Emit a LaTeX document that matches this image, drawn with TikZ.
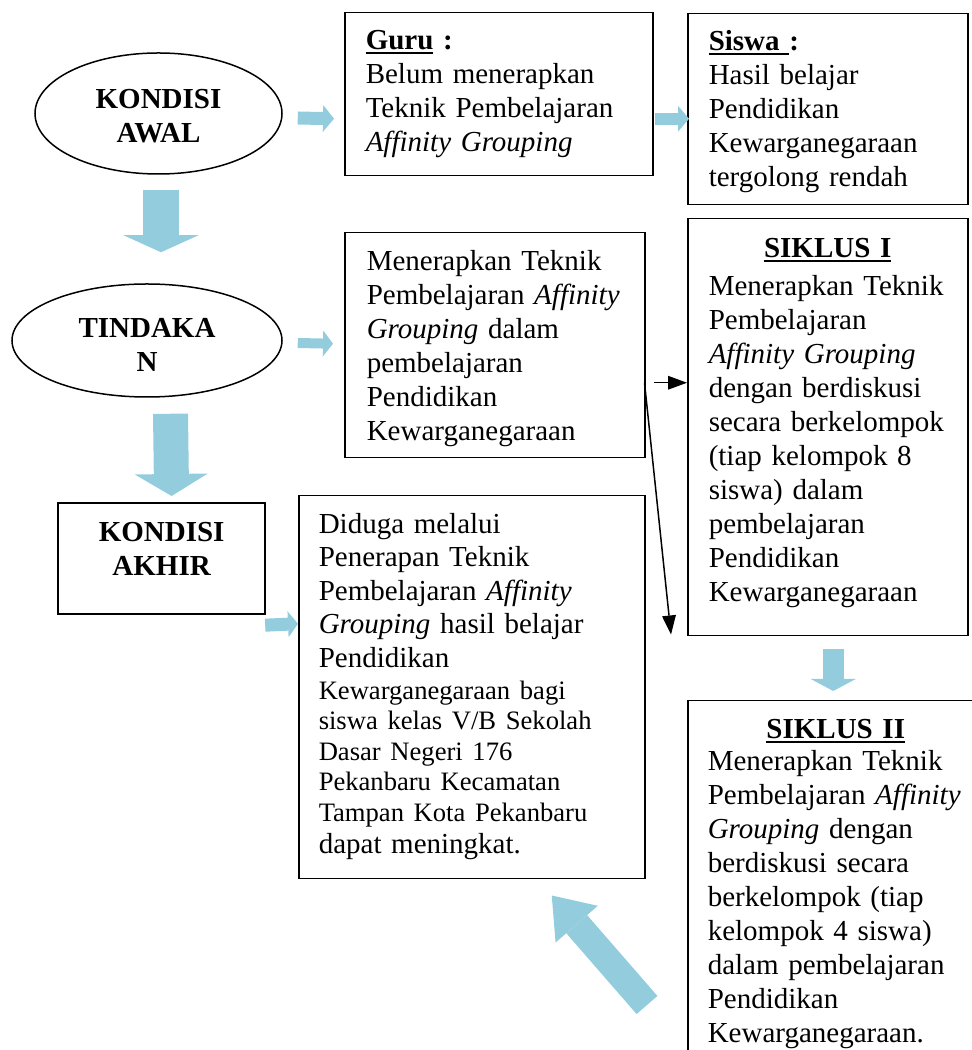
\documentclass[tikz,border=0pt]{standalone}
\usepackage{fontspec}
\setmainfont{Liberation Serif}
\usetikzlibrary{shapes.geometric,arrows.meta}

\definecolor{biru}{RGB}{147,205,221}
\newsavebox{\garisbox}
\newcommand{\garis}[1]{\sbox{\garisbox}{#1}\rlap{\rule[-4pt]{\wd\garisbox}{2pt}}\usebox{\garisbox}}
\newcommand{\judul}[1]{\makebox[\linewidth][c]{\garis{\textbf{#1}}}}
\newcommand{\teks}{\fontsize{29}{34}\selectfont}
\newcommand{\kecil}{\fontsize{26.6}{33.5}\selectfont}

\begin{document}
\begin{tikzpicture}[x=1pt,y=1pt,
  kotak/.style={draw,line width=1.5pt,anchor=north west,inner xsep=21pt,inner ysep=0pt,align=left,font=\teks},
  elips/.style={draw,ellipse,line width=1.5pt,text width=150pt,align=center,inner sep=2pt,font=\teks\bfseries},
  blok/.style n args={3}{draw=biru,line width=#1,-{Triangle[width=#2,length=#3,line width=0pt]}},
  panah/.style={draw=black,line width=1.5pt,-{Triangle[width=14pt,length=19pt,line width=0pt]}}]
\useasboundingbox (0,0) rectangle (972,1050);

% Kiri
\node[elips,minimum width=247pt,minimum height=121pt,text height=20pt,text depth=29pt] (awal) at (158.5,936.5) {KONDISI\\AWAL};
\node[elips,minimum width=270pt,minimum height=113pt,text height=20pt,text depth=25pt] (tindakan) at (147,709.5) {TINDAKA\\N};
\node[kotak,line width=2.2pt,inner xsep=0pt,align=center,font=\teks\bfseries,text width=207pt,text height=38pt,text depth=73pt] (akhir) at (57,548) {KONDISI\\AKHIR};

% Tengah
\node[kotak,text width=266pt,text height=37pt,text depth=126pt] (guru) at (344,1038) {\garis{\textbf{Guru}}\textbf{ :}\\
Belum menerapkan\\
Teknik Pembelajaran\\
\textit{Affinity Grouping}};
\node[kotak,inner xsep=22pt,text width=256pt,text height=38pt,text depth=187pt] (terap) at (344,818) {Menerapkan Teknik\\
Pembelajaran \textit{Affinity}\\
\textit{Grouping} dalam\\
pembelajaran\\
Pendidikan\\
Kewarganegaraan};
\node[kotak,inner xsep=20pt,font=\fontsize{29}{33.5}\selectfont,text width=306pt,text height=37.5pt,text depth=345.5pt] (diduga) at (298,555) {Diduga melalui\\
Penerapan Teknik\\
Pembelajaran \textit{Affinity}\\
\textit{Grouping} hasil belajar\\
Pendidikan\\[-1.5pt]
{\kecil Kewarganegaraan bagi}\\[-3pt]
{\kecil siswa kelas V/B Sekolah}\\[-3pt]
{\kecil Dasar Negeri 176}\\[-3pt]
{\kecil Pekanbaru Kecamatan}\\[-3pt]
{\kecil Tampan Kota Pekanbaru}\\[-1pt]
dapat meningkat.};

% Kanan
\node[kotak,text width=238pt,text height=37pt,text depth=154pt] (siswa) at (687,1037) {\garis{\textbf{Siswa }}\textbf{:}\\
Hasil belajar\\
Pendidikan\\
Kewarganegaraan\\
tergolong rendah};
\node[kotak,text width=238pt,text height=39pt,text depth=378pt] (siklus1) at (687,832) {\judul{SIKLUS I}\\[4pt]
Menerapkan Teknik\\
Pembelajaran\\
\textit{Affinity Grouping}\\
dengan berdiskusi\\
secara berkelompok\\
(tiap kelompok 8\\
siswa) dalam\\
pembelajaran\\
Pendidikan\\
Kewarganegaraan};
\node[kotak,inner xsep=20pt,text width=256pt,text height=38pt,text depth=322pt] (siklus2) at (687,350) {\judul{SIKLUS II}\\[-2pt]
Menerapkan Teknik\\
Pembelajaran \textit{Affinity}\\
\textit{Grouping} dengan\\
berdiskusi secara\\
berkelompok (tiap\\
kelompok 4 siswa)\\
dalam pembelajaran\\
Pendidikan\\
Kewarganegaraan.};

% Panah biru
\draw[blok={13pt}{27pt}{11pt}] ([xshift=15pt,yshift=-4.5pt]awal.east) -- ([xshift=-10pt,yshift=-24.5pt]guru.west);
\draw[blok={12pt}{26pt}{11pt}] ([xshift=1pt,yshift=-24.5pt]guru.east) -- ([xshift=2pt,yshift=-9.5pt]siswa.west);
\draw[blok={36pt}{75pt}{17pt}] ([xshift=2.5pt,yshift=-15pt]awal.south) -- ([xshift=14pt,yshift=31pt]tindakan.north);
\draw[blok={35pt}{73pt}{22pt}] ([xshift=23.5pt,yshift=-16pt]tindakan.south) -- ([xshift=10pt,yshift=6pt]akhir.north);
\draw[blok={10pt}{26pt}{10pt}] ([xshift=15pt,yshift=-2.5pt]tindakan.east) -- ([xshift=-11pt,yshift=1.5pt]terap.west);
\draw[blok={13pt}{26pt}{10pt}] ([xshift=-1pt,yshift=-10pt]akhir.south east) -- ([yshift=63.5pt]diduga.west);
\draw[blok={21pt}{45pt}{12pt}] ([xshift=5.5pt,yshift=-13pt]siklus1.south) -- ([xshift=-2.5pt,yshift=9pt]siklus2.north);
\draw[blok={27.6pt}{56pt}{38pt}] ([xshift=-40pt,yshift=56.5pt]siklus2.south west) -- ([xshift=80pt,yshift=-16pt]diduga.south);

% Panah hitam
\draw[panah] ([xshift=8pt,yshift=-37.5pt]terap.east) -- ([yshift=44.5pt]siklus1.west);
\draw[panah] ([xshift=-1pt,yshift=-37.5pt]terap.east) -- ([xshift=-16pt,yshift=2pt]siklus1.south west);
\end{tikzpicture}
\end{document}
